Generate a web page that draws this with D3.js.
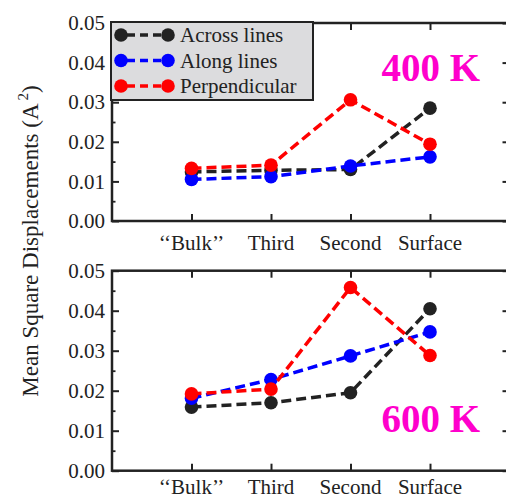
<!DOCTYPE html>
<html>
<head>
<meta charset="utf-8">
<script src="https://cdn.jsdelivr.net/npm/d3@7"></script>
<style>
  html, body { margin: 0; padding: 0; background: #fff; }
  svg { display: block; font-family: "Liberation Serif", "DejaVu Serif", serif; }
</style>
</head>
<body>
<div id="chart"></div>
<script>
var categories = ["\u2018\u2018Bulk\u2019\u2019", "Third", "Second", "Surface"];
var seriesNames = ["Across lines", "Along lines", "Perpendicular"];
var seriesColors = ["#222222", "#0000ff", "#ff0000"];
var yTicks = [0, 0.01, 0.02, 0.03, 0.04, 0.05];
var yMinorTicks = [0.005, 0.015, 0.025, 0.035, 0.045];

// 400 K panel
var across400 = [0.0124, 0.0128, 0.0130, 0.0285];
var along400 = [0.0105, 0.0112, 0.0139, 0.0162];
var perp400 = [0.0133, 0.0141, 0.0306, 0.0194];

// 600 K panel
var across600 = [0.0159, 0.0170, 0.0195, 0.0405];
var along600 = [0.0181, 0.0228, 0.0287, 0.0347];
var perp600 = [0.0192, 0.0204, 0.0458, 0.0288];

var W = 506, H = 499;
var AXIS = "#222222";
var LABEL_COLOR = "#ff00cc";
var LEFT = 112, RIGHT = 509.5;

var svg = d3.select("#chart").append("svg")
  .attr("width", W)
  .attr("height", H);

var x = d3.scalePoint()
  .domain(categories)
  .range([LEFT, RIGHT])
  .padding(1);

var drawPanel = function(top, bottom, series, tempLabel, labelY, catY) {
  var y = d3.scaleLinear().domain([0, 0.05]).range([bottom, top]);
  var g = svg.append("g");

  // minor ticks left and right
  g.append("g")
    .attr("transform", "translate(" + LEFT + ",0)")
    .call(d3.axisLeft(y).tickValues(yMinorTicks).tickSizeInner(-3.5).tickSizeOuter(0).tickFormat(""))
    .call(function(a) { a.select(".domain").remove(); a.selectAll("line").attr("stroke", AXIS).attr("stroke-width", 1.8); });
  g.append("g")
    .attr("transform", "translate(" + RIGHT + ",0)")
    .call(d3.axisRight(y).tickValues(yMinorTicks).tickSizeInner(-3.5).tickSizeOuter(0).tickFormat(""))
    .call(function(a) { a.select(".domain").remove(); a.selectAll("line").attr("stroke", AXIS).attr("stroke-width", 1.8); });

  // major y ticks
  g.append("g")
    .attr("transform", "translate(" + LEFT + ",0)")
    .call(d3.axisLeft(y).tickValues(yTicks).tickSizeInner(-7).tickSizeOuter(0).tickPadding(7).tickFormat(d3.format(".2f")))
    .call(function(a) {
      a.select(".domain").remove();
      a.selectAll("line").attr("stroke", AXIS).attr("stroke-width", 2);
      a.selectAll("text").attr("font-size", 21).attr("font-family", "Liberation Serif").attr("fill", "#222");
    });
  g.append("g")
    .attr("transform", "translate(" + RIGHT + ",0)")
    .call(d3.axisRight(y).tickValues(yTicks).tickSizeInner(-7).tickSizeOuter(0).tickFormat(""))
    .call(function(a) { a.select(".domain").remove(); a.selectAll("line").attr("stroke", AXIS).attr("stroke-width", 2); });

  // x ticks bottom and top
  g.append("g")
    .attr("transform", "translate(0," + bottom + ")")
    .call(d3.axisBottom(x).tickSizeInner(-7).tickSizeOuter(0).tickFormat(""))
    .call(function(a) { a.select(".domain").remove(); a.selectAll("line").attr("stroke", AXIS).attr("stroke-width", 2); });
  g.append("g")
    .attr("transform", "translate(0," + top + ")")
    .call(d3.axisTop(x).tickSizeInner(-7).tickSizeOuter(0).tickFormat(""))
    .call(function(a) { a.select(".domain").remove(); a.selectAll("line").attr("stroke", AXIS).attr("stroke-width", 2); });

  g.selectAll(".cat")
    .data(categories)
    .enter().append("text")
    .attr("x", function(d) { return x(d); })
    .attr("y", catY)
    .attr("text-anchor", "middle")
    .attr("font-size", 21)
    .attr("fill", "#222")
    .text(function(d) { return d; });

  // frame
  g.append("rect")
    .attr("x", LEFT)
    .attr("y", top)
    .attr("width", RIGHT - LEFT)
    .attr("height", bottom - top)
    .attr("fill", "none")
    .attr("stroke", AXIS)
    .attr("stroke-width", 2.5);

  var line = d3.line()
    .x(function(d, i) { return x(categories[i]); })
    .y(function(d) { return y(d); });

  series.forEach(function(vals, k) {
    g.append("path")
      .datum(vals)
      .attr("d", line)
      .attr("fill", "none")
      .attr("stroke", seriesColors[k])
      .attr("stroke-width", 3.5)
      .attr("stroke-dasharray", "10,5");
    g.selectAll(".pt" + k)
      .data(vals)
      .enter().append("circle")
      .attr("cx", function(d, i) { return x(categories[i]); })
      .attr("cy", function(d) { return y(d); })
      .attr("r", 6.8)
      .attr("fill", seriesColors[k]);
  });

  g.append("text")
    .attr("x", 480)
    .attr("y", labelY)
    .attr("text-anchor", "end")
    .attr("font-size", 39)
    .attr("font-weight", "bold")
    .attr("fill", LABEL_COLOR)
    .text(tempLabel);

  return g;
};

drawPanel(23, 221, [across400, along400, perp400], "400 K", 81, 250);
drawPanel(270.7, 470.7, [across600, along600, perp600], "600 K", 431.5, 494);

// legend (top panel)
var legend = svg.append("g");
legend.append("rect")
  .attr("x", 111)
  .attr("y", 22)
  .attr("width", 202)
  .attr("height", 78)
  .attr("fill", "#dcdcde")
  .attr("stroke", AXIS)
  .attr("stroke-width", 2);

seriesNames.forEach(function(name, k) {
  var ly = 35 + k * 25.5;
  legend.append("line")
    .attr("x1", 121).attr("x2", 168)
    .attr("y1", ly).attr("y2", ly)
    .attr("stroke", seriesColors[k])
    .attr("stroke-width", 3.5)
    .attr("stroke-dasharray", "8,5")
    .attr("stroke-dashoffset", -6);
  legend.selectAll(".lm" + k)
    .data([121, 168])
    .enter().append("circle")
    .attr("cx", function(d) { return d; })
    .attr("cy", ly)
    .attr("r", 6.8)
    .attr("fill", seriesColors[k]);
  legend.append("text")
    .attr("x", 180)
    .attr("y", ly + 7)
    .attr("font-size", 21)
    .attr("fill", "#222")
    .text(name);
});

// y axis title
var title = svg.append("text")
  .attr("transform", "translate(38,241) rotate(-90)")
  .attr("text-anchor", "middle")
  .attr("font-size", 23)
  .attr("fill", "#222");
title.append("tspan").text("Mean Square Displacements (A");
title.append("tspan").attr("font-size", 15).attr("dy", -10).attr("dx", 3).text("2");
title.append("tspan").attr("dy", 10).text(")");
</script>
</body>
</html>
